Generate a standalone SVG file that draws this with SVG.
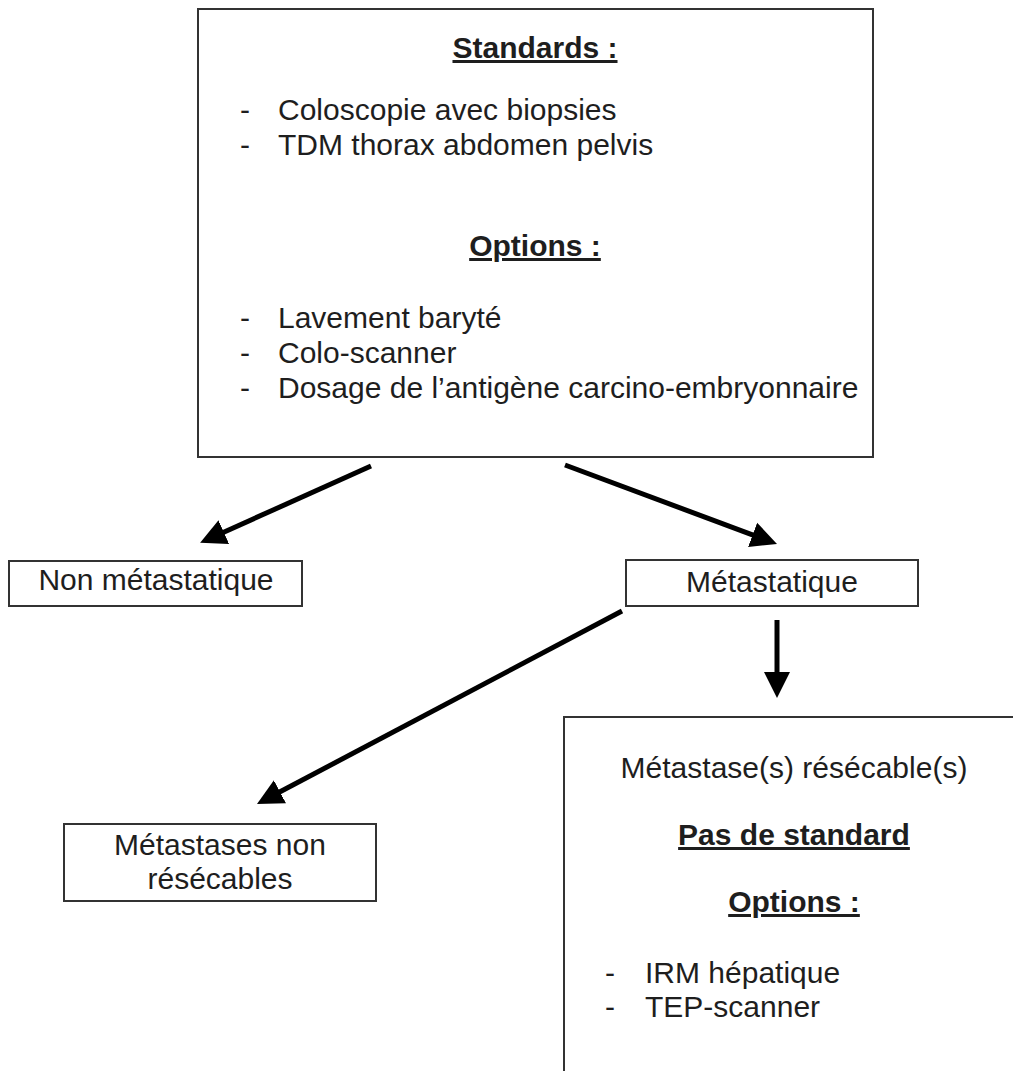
<svg xmlns="http://www.w3.org/2000/svg" width="1013" height="1071" viewBox="0 0 1013 1071">
  <style>
    .box { fill: #ffffff; stroke: #333333; stroke-width: 2; }
    .t { font-family: "Liberation Sans", Arial, sans-serif; font-size: 30px; fill: #1e1e1e; }
    .c { text-anchor: middle; }
    .h { font-weight: bold; text-decoration: underline; text-decoration-thickness: 3px; text-underline-offset: 5px; }
    .link { stroke: #000000; stroke-width: 5; fill: none; }
  </style>
  <defs>
    <marker id="head" markerUnits="userSpaceOnUse" markerWidth="30" markerHeight="28" refX="2" refY="13" orient="auto" viewBox="0 0 30 26">
      <path d="M0,0 L26,13 L0,26 Z" fill="#000000"/>
    </marker>
  </defs>

  <rect width="1013" height="1071" fill="#ffffff"/>

  <!-- work-up box -->
  <g id="bilan">
    <rect class="box" x="198" y="9" width="675" height="448"/>
    <text class="t c h" x="535" y="58">Standards :</text>
    <text class="t" x="240" y="120">-</text>
    <text class="t" x="278" y="120">Coloscopie avec biopsies</text>
    <text class="t" x="240" y="155">-</text>
    <text class="t" x="278" y="155">TDM thorax abdomen pelvis</text>
    <text class="t c h" x="535" y="256">Options :</text>
    <text class="t" x="240" y="328">-</text>
    <text class="t" x="278" y="328">Lavement baryté</text>
    <text class="t" x="240" y="363">-</text>
    <text class="t" x="278" y="363">Colo-scanner</text>
    <text class="t" x="240" y="398">-</text>
    <text class="t" x="278" y="398">Dosage de l’antigène carcino-embryonnaire</text>
  </g>

  <g id="non-metastatique">
    <rect class="box" x="9" y="561" width="293" height="45"/>
    <text class="t c" x="156" y="590">Non métastatique</text>
  </g>

  <g id="metastatique">
    <rect class="box" x="626" y="560" width="292" height="46"/>
    <text class="t c" x="772" y="592">Métastatique</text>
  </g>

  <g id="non-resecables">
    <rect class="box" x="64" y="824" width="312" height="77"/>
    <text class="t c" x="220" y="855">Métastases non</text>
    <text class="t c" x="220" y="889">résécables</text>
  </g>

  <g id="resecables">
    <rect class="box" x="564" y="717" width="520" height="420"/>
    <text class="t c" x="794" y="778">Métastase(s) résécable(s)</text>
    <text class="t c h" x="794" y="845">Pas de standard</text>
    <text class="t c h" x="794" y="912">Options :</text>
    <text class="t" x="605" y="983">-</text>
    <text class="t" x="645" y="983">IRM hépatique</text>
    <text class="t" x="605" y="1017">-</text>
    <text class="t" x="645" y="1017">TEP-scanner</text>
  </g>

  <!-- connectors -->
  <g id="connectors">
    <line class="link" x1="371" y1="466" x2="222" y2="533" marker-end="url(#head)"/>
    <line class="link" x1="565" y1="465" x2="754.5" y2="535.6" marker-end="url(#head)"/>
    <line class="link" x1="777" y1="620" x2="777" y2="674" stroke-width="6" marker-end="url(#head)"/>
    <line class="link" x1="622" y1="611" x2="278.2" y2="792.8" marker-end="url(#head)"/>
  </g>
</svg>
